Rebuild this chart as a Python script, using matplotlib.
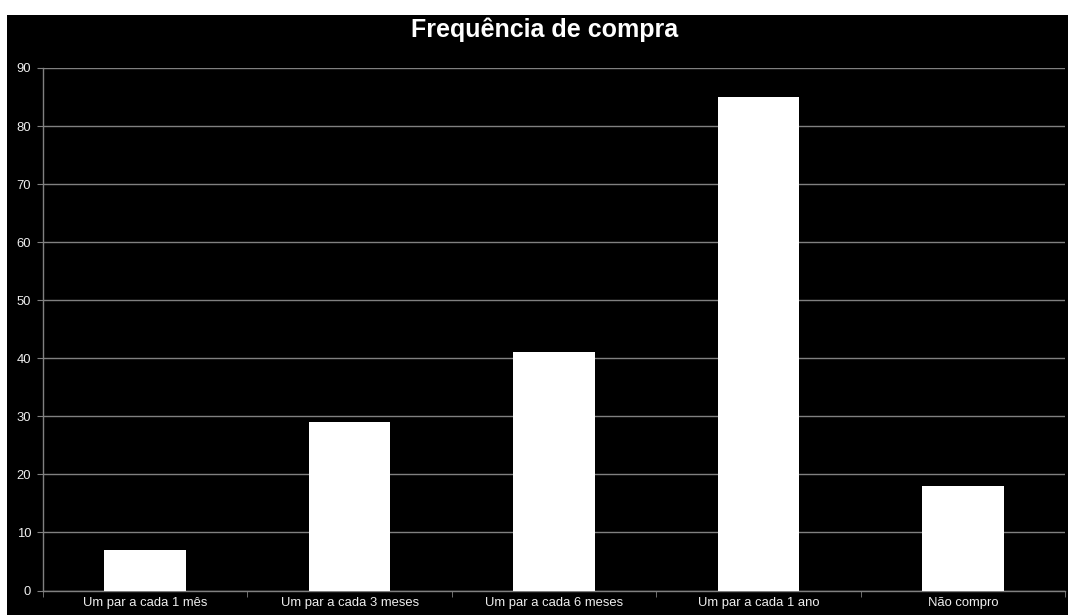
from matplotlib import pyplot as plt
from matplotlib.patches import Rectangle
import numpy as np

plt.rcParams['font.family'] = ['Liberation Sans', 'DejaVu Sans']

categorias = ['Um par a cada 1 mês', 'Um par a cada 3 meses', 'Um par a cada 6 meses',
              'Um par a cada 1 ano', 'Não compro']
valores = [7, 29, 41, 85, 18]
yticks = [0, 10, 20, 30, 40, 50, 60, 70, 80, 90]

W, H = 1068, 615
fig = plt.figure(figsize=(W / 100, H / 100), dpi=100, facecolor='white')
# fundo preto do grafico (deixa uma faixa branca em cima e a esquerda)
fig.patches.append(Rectangle((7 / W, 0), 1 - 7 / W, 1 - 15 / H, transform=fig.transFigure,
                             facecolor='black', edgecolor='none', zorder=-1))

ax = fig.add_axes([43 / W, 1 - 590.5 / H, (1065 - 43) / W, (590.5 - 68) / H])
ax.set_facecolor('black')

x = np.arange(len(categorias))
ax.bar(x, valores, width=0.4, color='white', zorder=3)

ax.set_xlim(-0.5, len(categorias) - 0.5)
ax.set_ylim(0, 90)
ax.set_yticks(yticks)
ax.yaxis.grid(True, color='#808080', linewidth=1)
ax.set_axisbelow(True)

ax.set_xticks(x)
ax.set_xticklabels(categorias)
ax.set_xticks(np.arange(len(categorias) + 1) - 0.5, minor=True)
ax.tick_params(axis='x', which='major', length=0, pad=5, labelsize=9.4, colors='#eeeeee')
ax.tick_params(axis='x', which='minor', length=4, color='#808080', direction='out')
ax.tick_params(axis='y', length=4, color='#808080', pad=4.5, labelsize=9.4, labelcolor='#eeeeee')

for s in ['top', 'right']:
    ax.spines[s].set_visible(False)
for s in ['left', 'bottom']:
    ax.spines[s].set_color('#808080')
    ax.spines[s].set_linewidth(1)

fig.text(545 / W, 1 - 30 / H, 'Frequência de compra', color='white',
         fontsize=18, fontweight='bold', ha='center', va='center')

plt.savefig('out.png', dpi=100, facecolor='white')
